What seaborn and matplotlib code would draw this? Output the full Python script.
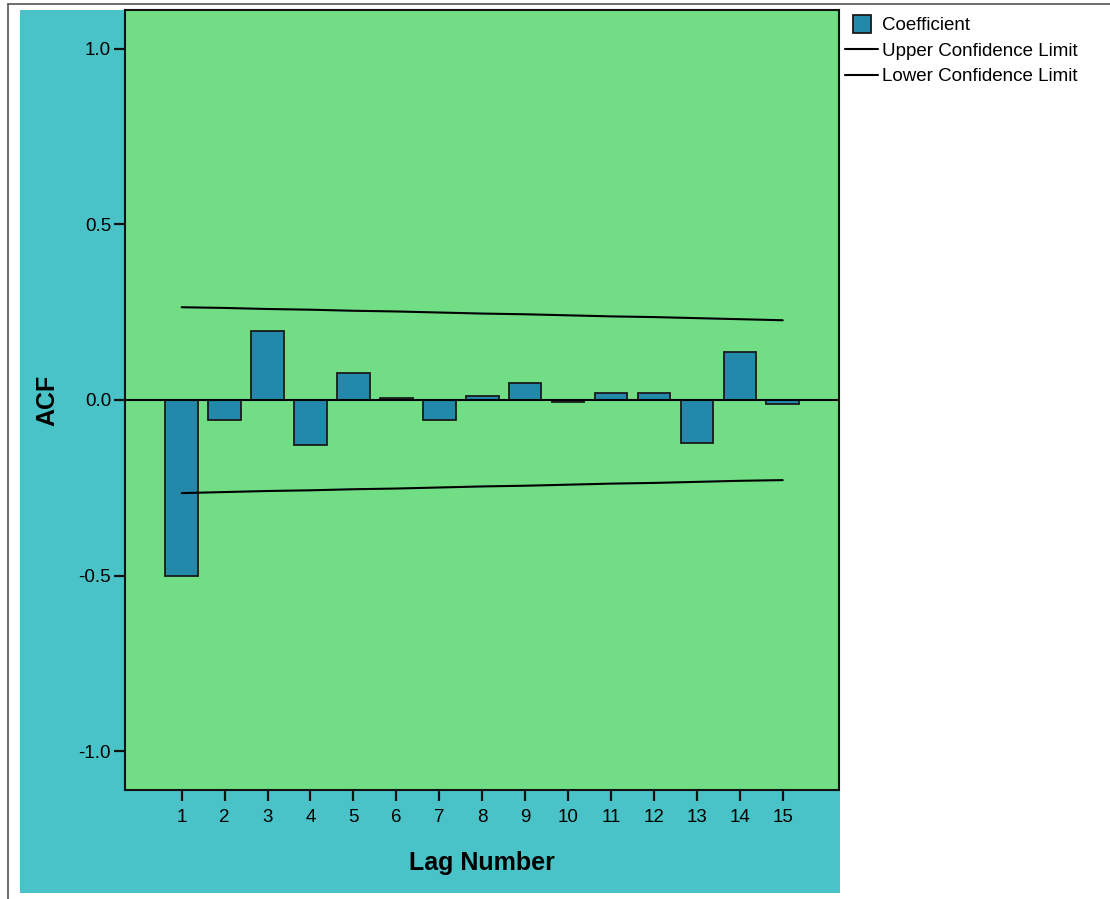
import seaborn as sns
import matplotlib
matplotlib.use('Agg')
import matplotlib.pyplot as plt
import pandas as pd
from matplotlib.patches import Rectangle
from matplotlib.lines import Line2D

# ACF values
lags = list(range(1, 16))
acf = [-0.50, -0.057, 0.197, -0.127, 0.076, 0.005, -0.057, 0.012,
       0.048, -0.005, 0.021, 0.021, -0.123, 0.136, -0.012]
upper = [0.264, 0.262, 0.259, 0.257, 0.254, 0.252, 0.249, 0.246,
         0.244, 0.241, 0.238, 0.236, 0.233, 0.230, 0.227]
lower = [-0.265, -0.262, -0.259, -0.257, -0.254, -0.252, -0.249, -0.246,
         -0.244, -0.241, -0.238, -0.236, -0.233, -0.230, -0.228]
yticks = [-1.0, -0.5, 0.0, 0.5, 1.0]

df = pd.DataFrame({"Lag": lags, "ACF": acf, "Upper": upper, "Lower": lower})

sns.set_theme(style="ticks")
plt.rcParams['font.family'] = ['Liberation Sans', 'DejaVu Sans']
plt.rcParams['axes.unicode_minus'] = False

TEAL = "#49c3c7"
GREEN = "#71de86"
BAR = "#2389aa"

W, H = 1110, 899
fig = plt.figure(figsize=(W / 100, H / 100), dpi=100)
fig.patch.set_facecolor("white")

# teal background panel + outer frame
fig.add_artist(Rectangle((20 / W, 1 - 893 / H), 820 / W, 883 / H,
                         transform=fig.transFigure, facecolor=TEAL,
                         edgecolor="none", zorder=-10))
fig.add_artist(Line2D([8 / W, 8 / W], [0, 1 - 4 / H], color="#555555", lw=1.2,
                      transform=fig.transFigure))
fig.add_artist(Line2D([8 / W, 1], [1 - 4 / H, 1 - 4 / H], color="#555555", lw=1.2,
                      transform=fig.transFigure))

ax = fig.add_axes([125 / W, 1 - 790 / H, 714 / W, 780 / H])
ax.set_facecolor(GREEN)

sns.barplot(data=df, x="Lag", y="ACF", native_scale=True, width=0.76,
            color=BAR, saturation=1, edgecolor="#1a1a1a", linewidth=1.3,
            ax=ax, zorder=2)
sns.lineplot(data=df, x="Lag", y="Upper", color="black", lw=1.5, ax=ax, zorder=3)
sns.lineplot(data=df, x="Lag", y="Lower", color="black", lw=1.5, ax=ax, zorder=3)
ax.axhline(0, color="black", lw=1.5, zorder=3)

ax.set_xlim(-0.32, 16.31)
ax.set_ylim(-1.11, 1.11)
ax.set_xticks(lags)
ax.set_xticklabels([str(l) for l in lags])
ax.set_yticks(yticks)
ax.set_yticklabels([f"{t:.1f}" for t in yticks])
ax.tick_params(axis="both", direction="out", length=8, width=1.6,
               color="#111111", labelsize=13.5, labelcolor="black")
ax.tick_params(axis="x", pad=6)
ax.tick_params(axis="y", pad=2)
for s in ax.spines.values():
    s.set_color("#111111")
    s.set_linewidth(1.5)

ax.set_xlabel("Lag Number", fontsize=18, fontweight="bold", va="center",
              color="black")
ax.set_ylabel("ACF", fontsize=18, fontweight="bold", va="center",
              color="black")
ax.xaxis.set_label_coords(0.5, -0.094)
ax.yaxis.set_label_coords(-0.109, 0.5)

handles = [Line2D([], [], marker="s", markersize=13, markerfacecolor=BAR,
                  markeredgecolor="#1a1a1a", markeredgewidth=1.3, linestyle="none"),
           Line2D([], [], color="black", lw=1.5),
           Line2D([], [], color="black", lw=1.5)]
labels = ["Coefficient", "Upper Confidence Limit", "Lower Confidence Limit"]
leg = fig.legend(handles, labels, loc="upper left",
                 bbox_to_anchor=(845 / W, 1 - 17 / H), frameon=False,
                 fontsize=13.5, handlelength=1.76, handletextpad=0.2,
                 labelspacing=0.45, borderaxespad=0, borderpad=0)
for t in leg.get_texts():
    t.set_color("black")

fig.savefig("out.png", dpi=100)
